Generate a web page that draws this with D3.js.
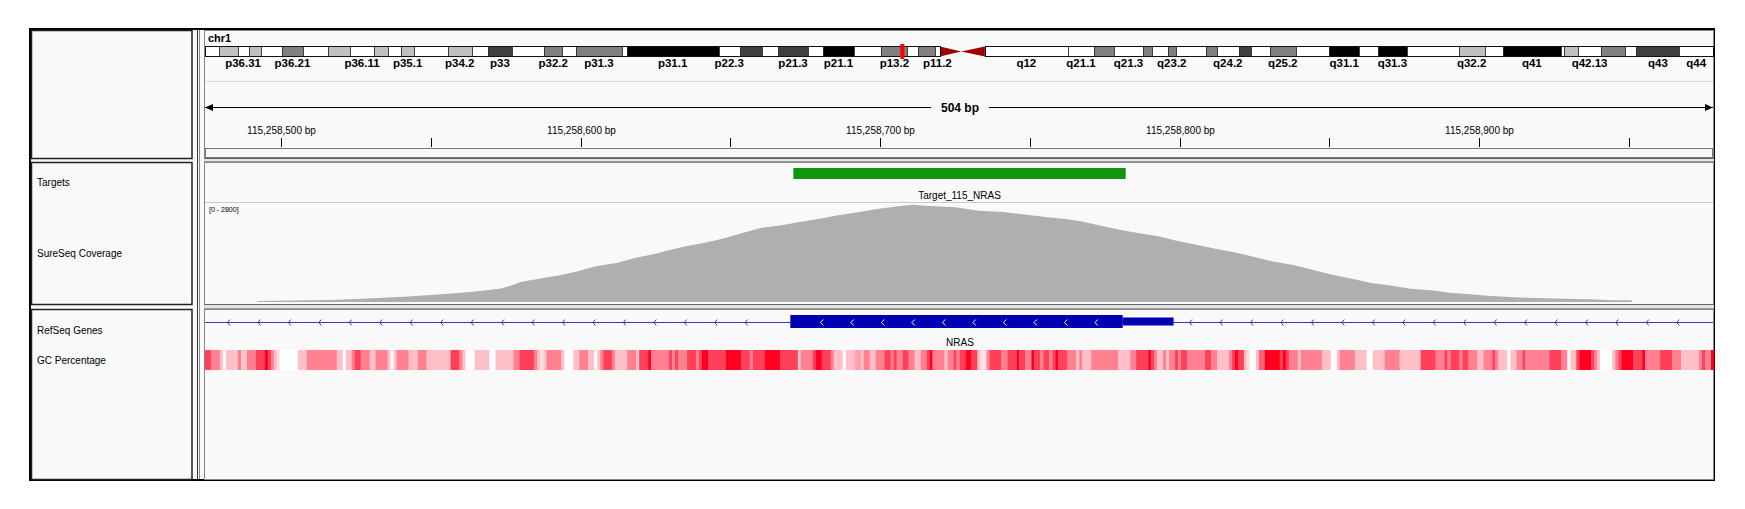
<!DOCTYPE html>
<html>
<head>
<meta charset="utf-8">
<script src="https://cdn.jsdelivr.net/npm/d3@7"></script>
<style>
  body { margin: 0; background: #fff; }
  svg { display: block; }
  text { font-family: "Liberation Sans", Arial, sans-serif; }
</style>
</head>
<body>
<script>
// ---- data ----
const chromName = "chr1";
const chromLength = 249.250621; // Mb (hg19)

const bandNames = ["p36.33","p36.32","p36.31","p36.23","p36.22","p36.21","p36.13","p36.12","p36.11","p35.3","p35.2","p35.1","p34.3","p34.2","p34.1","p33","p32.3","p32.2","p32.1","p31.3","p31.2","p31.1","p22.3","p22.2","p22.1","p21.3","p21.2","p21.1","p13.3","p13.2","p13.1","p12","p11.2","p11.1","q11","q12","q21.1","q21.2","q21.3","q22","q23.1","q23.2","q23.3","q24.1","q24.2","q24.3","q25.1","q25.2","q25.3","q31.1","q31.2","q31.3","q32.1","q32.2","q32.3","q41","q42.11","q42.12","q42.13","q42.2","q42.3","q43","q44"];
const bandStarts = [0,2.3,5.4,7.2,9.2,12.7,16.2,20.4,23.9,28.0,30.2,32.4,34.6,40.1,44.1,46.8,50.7,56.1,59.0,61.3,68.9,69.7,84.9,88.4,92.0,94.7,99.7,102.2,107.2,111.8,116.1,117.8,120.6,121.5,125.0,128.9,142.6,147.0,150.3,155.0,156.5,159.1,160.5,165.5,167.2,170.9,172.9,176.0,180.3,185.8,190.8,193.8,198.7,207.2,211.5,214.5,224.1,224.6,227.0,230.7,234.7,236.6,243.7];
const bandStains = ["gneg","gpos25","gneg","gpos25","gneg","gpos50","gneg","gpos25","gneg","gpos25","gneg","gpos25","gneg","gpos25","gneg","gpos75","gneg","gpos50","gneg","gpos50","gneg","gpos100","gneg","gpos75","gneg","gpos75","gneg","gpos100","gneg","gpos50","gneg","gpos50","gneg","acen","acen","gvar","gneg","gpos50","gneg","gpos50","gneg","gpos50","gneg","gpos50","gneg","gpos75","gneg","gpos50","gneg","gpos100","gneg","gpos100","gneg","gpos25","gneg","gpos100","gneg","gpos25","gneg","gpos50","gneg","gpos75","gneg"];
const shownBandLabels = ["p36.31","p36.21","p36.11","p35.1","p34.2","p33","p32.2","p31.3","p31.1","p22.3","p21.3","p21.1","p13.2","p11.2","q12","q21.1","q21.3","q23.2","q24.2","q25.2","q31.1","q31.3","q32.2","q41","q42.13","q43","q44"];

const viewRange = [115258474.5, 115258978.5];
const rulerTicks = [115258500,115258550,115258600,115258650,115258700,115258750,115258800,115258850,115258900,115258950];

const targetName = "Target_115_NRAS";
const targetRange = [115258671, 115258782];

const covBase = 115258400;
const covOffset = [92,116,125,132,141,146,151,156,162,167,173,176,180,186,193,199,205,212,218,225,228,235,241,247,254,260,267,273,280,286,293,299,306,311,315,325,333,341,349,356,362,367,373,380,386,393,399,406,412,419,425,432,438,445,451,458,464,471,477,484,490,497,503,510,519,529,537,545,551];
const covDepth = [28,56,84,112,149,177,205,233,271,317,373,439,560,653,747,859,999,1092,1232,1353,1418,1559,1652,1764,1932,2072,2146,2240,2333,2426,2520,2604,2678,2725,2697,2650,2557,2520,2445,2370,2324,2258,2146,2025,1932,1838,1717,1596,1493,1381,1260,1120,1036,887,765,644,532,457,373,327,261,215,177,140,112,93,75,47,47];
const covMax = 2800;

const geneName = "NRAS";
const exonRange = [115258670, 115258798];
const cdsEnd = 115258781;

// GC percentage runs: offset (bp from view start) where a run begins, and its GC %
const gcStart = [0,2,5,6,7,11,12,14,17,20,21,22,23,24,25,31,34,44,46,47,49,50,52,55,57,61,62,63,64,68,71,74,82,85,86,87,90,95,97,103,105,110,111,112,113,114,119,120,123,125,128,130,131,132,133,136,137,141,144,145,148,149,155,156,157,158,161,164,165,166,168,174,179,182,183,187,192,198,199,203,204,206,209,210,213,214,217,219,220,222,224,227,229,230,231,233,235,237,239,241,242,243,247,248,250,251,252,254,256,258,259,261,262,266,268,271,272,274,276,277,279,280,282,283,284,285,288,291,292,293,296,305,309,311,315,316,317,318,320,321,322,324,325,326,328,334,336,338,342,343,344,345,347,348,349,351,352,354,359,360,361,362,365,366,373,376,378,379,384,388,390,394,399,406,411,414,415,416,419,420,422,425,427,430,431,432,435,436,438,440,441,449,453,455,456,458,459,463,464,465,466,470,471,472,473,477,480,481,486,490,493,499,500,501,503];
const gcPct = [75,50,25,0,25,50,25,50,75,100,75,50,25,12,0,25,50,25,0,25,50,75,50,25,50,25,0,25,50,25,50,25,75,50,25,0,25,0,25,50,75,50,25,12,25,50,25,0,25,50,25,0,25,50,75,50,25,50,25,75,100,50,75,50,75,50,75,50,75,100,75,100,75,50,75,100,75,25,50,75,100,75,50,25,0,25,37,25,50,25,50,75,50,75,50,75,50,25,50,75,100,50,25,50,75,50,75,100,75,25,12,50,75,50,75,100,75,50,100,75,50,75,50,75,100,75,50,25,50,25,50,25,50,75,100,75,50,25,50,25,50,75,50,75,50,75,50,25,50,75,100,75,25,12,0,25,62,100,75,100,75,50,25,50,25,0,25,50,25,0,25,50,25,75,50,75,50,75,50,75,50,25,50,75,50,25,0,25,50,75,50,75,50,0,25,75,100,75,50,25,0,25,50,75,100,75,100,50,75,50,25,50,75,50,100];

const trackNames = ["Targets", "SureSeq Coverage", "RefSeq Genes", "GC Percentage"];

// ---- layout ----
const width = 1745, height = 509;
const bg = "#f9f9f9";
const dataLeft = 205, dataRight = 1713;
const sections = [[30, 158], [162, 304], [309, 479]];

const svg = d3.select("body").append("svg")
  .attr("width", width).attr("height", height);

const x = d3.scaleLinear().domain(viewRange).range([dataLeft, dataRight + 1]);
const ideoX = d3.scaleLinear().domain([0, chromLength]).range([dataLeft, dataRight]);

// frame
svg.append("rect").attr("x", 30).attr("y", 29).attr("width", 1684).attr("height", 451)
  .attr("fill", bg).attr("stroke", "#000").attr("stroke-width", 2);

sections.forEach(([y0, y1]) => {
  svg.append("rect").attr("x", 31.5).attr("y", y0 + 0.5).attr("width", 160.5).attr("height", y1 - y0)
    .attr("fill", bg).attr("stroke", "#222").attr("stroke-width", 1.5);
  svg.append("rect").attr("x", 204.5).attr("y", y0 + 0.5).attr("width", 1509).attr("height", y1 - y0)
    .attr("fill", bg).attr("stroke", "#888").attr("stroke-width", 1);
});
// separators between sections in the data column
[[158, 162], [304, 309]].forEach(([a, b]) => {
  svg.append("rect").attr("x", 204).attr("y", a).attr("width", 1510).attr("height", b - a)
    .attr("fill", "#e4e4e4");
  svg.append("line").attr("x1", 204).attr("x2", 1714).attr("y1", a + 0.5).attr("y2", a + 0.5)
    .attr("stroke", "#666");
  svg.append("line").attr("x1", 204).attr("x2", 1714).attr("y1", b - 0.5).attr("y2", b - 0.5)
    .attr("stroke", "#999");
});
// attribute column lines
[197.5, 199.5].forEach(lx => {
  svg.append("line").attr("x1", lx).attr("x2", lx).attr("y1", 30).attr("y2", 479)
    .attr("stroke", lx < 198 ? "#333" : "#888");
});

// ---- header: ideogram ----
const head = svg.append("g");
head.append("text").attr("x", 208).attr("y", 42).attr("font-size", 11).attr("font-weight", "bold")
  .text(chromName);

const bands = bandNames.map((name, i) => ({
  name, stain: bandStains[i], start: bandStarts[i],
  end: i + 1 < bandStarts.length ? bandStarts[i + 1] : chromLength
}));
const stainColor = { gneg: "#ffffff", gvar: "#ffffff", gpos25: "#c0c0c0", gpos50: "#808080", gpos75: "#404040", gpos100: "#000000" };
const iy0 = 46.5, iy1 = 56.5;

head.append("g").selectAll("rect")
  .data(bands.filter(b => b.stain !== "acen"))
  .join("rect")
  .attr("x", b => Math.round(ideoX(b.start)) + 0.5).attr("y", iy0)
  .attr("width", b => Math.max(1, Math.round(ideoX(b.end)) - Math.round(ideoX(b.start))))
  .attr("height", iy1 - iy0)
  .attr("fill", b => stainColor[b.stain])
  .attr("stroke", "#2a2a2a").attr("stroke-width", 0.8);

const acen = bands.filter(b => b.stain === "acen");
head.append("g").selectAll("path")
  .data(acen)
  .join("path")
  .attr("d", b => {
    const s = ideoX(b.start), e = ideoX(b.end), m = (iy0 + iy1) / 2;
    return b.name.startsWith("p")
      ? `M${s},${iy0}L${e},${m}L${s},${iy1}Z`
      : `M${e},${iy0}L${s},${m}L${e},${iy1}Z`;
  })
  .attr("fill", "#a00000");

// arm outlines
const cenStart = d3.min(acen, b => b.start), cenEnd = d3.max(acen, b => b.end);
[[0, cenStart], [cenEnd, chromLength]].forEach(([s, e]) => {
  head.append("rect").attr("x", Math.round(ideoX(s)) + 0.5).attr("y", iy0)
    .attr("width", Math.round(ideoX(e)) - Math.round(ideoX(s))).attr("height", iy1 - iy0)
    .attr("fill", "none").attr("stroke", "#111");
});

// current view marker
const viewMb = (viewRange[0] + viewRange[1]) / 2e6;
head.append("rect").attr("x", ideoX(viewMb) - 2).attr("y", 44).attr("width", 4).attr("height", 15)
  .attr("fill", "#ff0000");

head.append("g").selectAll("text")
  .data(bands.filter(b => shownBandLabels.includes(b.name)))
  .join("text")
  .attr("x", b => ideoX((b.start + b.end) / 2)).attr("y", 67)
  .attr("text-anchor", "middle").attr("font-size", 11.5).attr("font-weight", "bold")
  .attr("font-family", "'Liberation Serif', serif")
  .text(b => b.name);

head.append("line").attr("x1", 205).attr("x2", 1713).attr("y1", 81.5).attr("y2", 81.5)
  .attr("stroke", "#dcdcdc");

// ---- ruler ----
const ry = 107.5;
const cx = (dataLeft + dataRight) / 2 + 1;
const spanLabel = head.append("text").attr("x", cx).attr("y", ry + 4.5)
  .attr("text-anchor", "middle").attr("font-size", 12).attr("font-weight", "bold")
  .text(d3.format(",")(viewRange[1] - viewRange[0]) + " bp");
const half = spanLabel.node().getComputedTextLength() / 2 + 10;
head.append("line").attr("x1", dataLeft).attr("x2", cx - half).attr("y1", ry).attr("y2", ry).attr("stroke", "#000");
head.append("line").attr("x1", cx + half).attr("x2", dataRight).attr("y1", ry).attr("y2", ry).attr("stroke", "#000");
head.append("path").attr("d", `M${dataLeft},${ry}L${dataLeft + 8},${ry - 3.5}L${dataLeft + 8},${ry + 3.5}Z`);
head.append("path").attr("d", `M${dataRight},${ry}L${dataRight - 8},${ry - 3.5}L${dataRight - 8},${ry + 3.5}Z`);

const tick = head.append("g").selectAll("g").data(rulerTicks).join("g")
  .attr("transform", t => `translate(${Math.round(x(t)) + 0.5},0)`);
tick.append("line").attr("y1", 138).attr("y2", 147).attr("stroke", "#000");
tick.filter(t => t % 100 === 0).append("text")
  .attr("y", 134).attr("text-anchor", "middle").attr("font-size", 10)
  .text(t => d3.format(",")(t) + " bp");

head.append("rect").attr("x", 205.5).attr("y", 148.5).attr("width", 1507).attr("height", 9)
  .attr("fill", bg).attr("stroke", "#777");

// ---- targets + coverage ----
svg.append("rect").attr("x", x(targetRange[0])).attr("y", 168)
  .attr("width", x(targetRange[1]) - x(targetRange[0])).attr("height", 11)
  .attr("fill", "#0f960f");
svg.append("text").attr("x", (x(targetRange[0]) + x(targetRange[1])) / 2).attr("y", 199)
  .attr("text-anchor", "middle").attr("font-size", 10).text(targetName);
svg.append("line").attr("x1", 205).attr("x2", 1713).attr("y1", 202.5).attr("y2", 202.5)
  .attr("stroke", "#c9c9d6");
svg.append("text").attr("x", 209).attr("y", 212).attr("font-size", 7).text(`[0 - ${covMax}]`);

const yCov = d3.scaleLinear().domain([0, covMax]).range([302, 202]);
const cov = covOffset.map((o, i) => ({ pos: covBase + o, depth: covDepth[i] }));
svg.append("path").datum(cov)
  .attr("fill", "#afafaf")
  .attr("d", d3.area().x(d => x(d.pos)).y0(yCov(0)).y1(d => yCov(d.depth)));

// ---- gene ----
const gy = 322.5, blue = "#0000b2";
svg.append("line").attr("x1", 205).attr("x2", 1713).attr("y1", gy).attr("y2", gy)
  .attr("stroke", "#3535c8");
const ex0 = x(exonRange[0]), ex1 = x(exonRange[1]), cx1 = x(cdsEnd);
const intronMarks = d3.range(228.5, ex0 - 40, 30.45).concat(d3.range(ex1 + 17, dataRight - 5, 30.45));
svg.append("g").selectAll("path").data(intronMarks).join("path")
  .attr("d", m => `M${m + 1.5},${gy - 3}L${m - 1},${gy}L${m + 1.5},${gy + 3}`)
  .attr("fill", "none").attr("stroke", "#3535c8");
svg.append("rect").attr("x", ex0).attr("y", 315).attr("width", cx1 - ex0).attr("height", 13).attr("fill", blue);
svg.append("rect").attr("x", cx1).attr("y", 317.5).attr("width", ex1 - cx1).attr("height", 8).attr("fill", blue);
svg.append("g").selectAll("path").data(d3.range(ex0 + 31.5, cx1 - 20, 30.5)).join("path")
  .attr("d", m => `M${m + 1.5},${gy - 3}L${m - 1.5},${gy}L${m + 1.5},${gy + 3}`)
  .attr("fill", "none").attr("stroke", "#fff");
svg.append("text").attr("x", cx).attr("y", 346)
  .attr("text-anchor", "middle").attr("font-size", 10).text(geneName);

// ---- GC percentage ----
const gcColor = d3.scaleLinear().domain([0, 100]).range(["#ffffff", "#ff0020"]);
const span = viewRange[1] - viewRange[0];
const gcRuns = gcStart.map((s, i) => ({ s, e: i + 1 < gcStart.length ? gcStart[i + 1] : span, pct: gcPct[i] }));
svg.append("g").selectAll("rect").data(gcRuns).join("rect")
  .attr("x", d => x(viewRange[0] + d.s)).attr("y", 350)
  .attr("width", d => x(viewRange[0] + d.e) - x(viewRange[0] + d.s) + 0.3).attr("height", 20)
  .attr("fill", d => gcColor(d.pct));

// ---- track names ----
svg.append("g").selectAll("text").data(trackNames).join("text")
  .attr("x", 37).attr("y", (d, i) => [186, 257, 334, 364][i])
  .attr("font-size", 10).text(d => d);
</script>
</body>
</html>
